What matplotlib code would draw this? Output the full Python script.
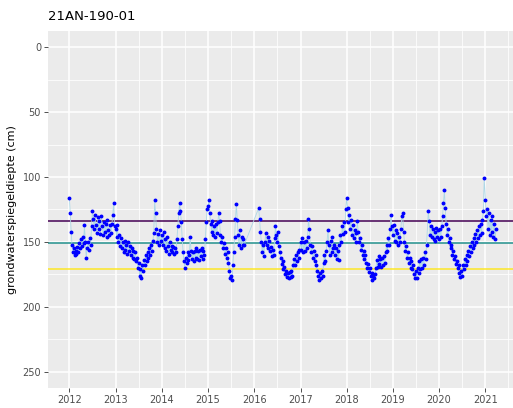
import numpy as np
import matplotlib.pyplot as plt
import matplotlib.dates as mdates

# weekly readings (cm below surface), one list per year, week 0 = 1 January
# None = no measurement
depth = {
    2012: [116, 128, 142, 152, 158, 155, 160, 157, 159, 154, 158, 151, 155, 148, 153, 146,
           151, 137, 150, 162, 155, 150, 156, 147, 152, 138, 126, 132, 140, 129, 137, 143,
           131, 140, 134, 144, 130, 138, 145, 135, 142, 136, 146, 133, 141, 145, 137, 143,
           136, 129, 120, 138],
    2013: [140, 146, 137, 150, 145, 153, 147, 155, 150, 158, 149, 156, 152, 159, 150, 157,
           153, 160, 155, 162, 157, 163, 158, 165, 162, 170, 166, 176, 171, 178, 168, 172,
           164, 168, 160, 165, 158, 162, 155, 160, 152, 157, 149, 143, 118, 128, 140, 150,
           144, 152, 141, 149],
    2014: [145, 152, 142, 155, 148, 157, 146, 153, 159, 150, 156, 153, 158, 154, 159, 155,
           158, 148, 138, 128, 120, 126, 135, 148, 158, 165, 170, 162, 166, 158, 164, 160,
           146, 157, 163, 158, 165, 157, 162, 155, 163, 157, 164, 156, 161, 155, 163, 157,
           160, 148, 135, 125],
    2015: [122, 118, 128, 136, 142, 134, 145, 138, 146, 136, 143, 135, 128, 134, 145, 150,
           146, 155, 151, 159, 155, 162, 158, 166, 172, 178, 176, 179, 168, 158, 146, 132,
           121, 133, 145, 152, 141, 155, 146, 152, 148, 152, None, None, None, None, None, None,
           None, None, None, None],
    2016: [None, None, None, None, None, 124, 132, 142, 150, 158, 152, 161, 150, 143, 152, 146,
           155, 149, 157, 154, 161, 156, 160, 147, 138, 145, 150, 142, 153, 158, 162, 167,
           165, 171, 169, 175, 172, 177, 174, 178, 173, 177, 172, 176, 168, 163, 168, 160,
           165, 158, 162, 156],
    2017: [150, 156, 147, 158, 150, 157, 149, 155, 146, 132, 140, 152, 158, 153, 162, 157,
           165, 160, 168, 172, 176, 179, 174, 178, 172, 176, 166, 160, 165, 157, 150, 141,
           152, 160, 149, 158, 146, 155, 152, 160, 155, 163, 157, 164, 152, 145, 150, 138,
           144, 135, 142, 125],
    2018: [116, 124, 135, 129, 140, 133, 145, 137, 147, 141, 150, 143, 134, 142, 150, 147,
           156, 152, 160, 157, 163, 160, 166, 170, 167, 173, 170, 176, 174, 179, 176, 178,
           175, 170, 164, 169, 161, 167, 163, 169, 162, 168, 161, 166, 158, 152, 157, 147,
           152, 140, 129, 138],
    2019: [145, 137, 149, 141, 150, 143, 152, 146, 150, 140, 130, 128, 142, 150, 157, 153,
           162, 158, 166, 162, 170, 165, 171, 168, 175, 178, 172, 178, 170, 174, 165, 171,
           163, 170, 162, 168, 158, 163, 152, None, 126, 134, 145, 138, 146, 140, 148, 142,
           149, 139, 146, 141],
    2020: [148, 140, 146, 138, 130, 120, 110, 124, 136, 145, 140, 150, 147, 155, 152, 160,
           157, 163, 161, 167, 165, 170, 168, 174, 177, 172, 176, 168, 171, 163, 168, 160,
           165, 157, 161, 153, 158, 150, 155, 147, 152, 144, 150, 141, 147, 138, 145, 136,
           143, 133, 126, 101],
    2021: [118, 130, 125, 140, 128, 145, 133, 142, 130, 146, 136, 148, 140],
}

# reference levels (cm)
levels = [134, 151, 171]
level_colors = ["#440154", "#21908C", "#FDE725"]

title = "21AN-190-01"
ylabel = "grondwaterspiegeldiepte (cm)"

dates = []
values = []
for year, vals in depth.items():
    start = np.datetime64(f"{year}-01-01")
    for w, v in enumerate(vals):
        if v is not None:
            dates.append(start + np.timedelta64(7 * w, "D"))
            values.append(v)
dates = np.array(dates, dtype="datetime64[D]")
values = np.array(values, dtype=float)

fig = plt.figure(figsize=(5.13, 4.08), dpi=100)
ax = fig.add_axes([48 / 513, 1 - 388 / 408, (517 - 48) / 513, (388 - 31) / 408])
ax.set_facecolor("#EBEBEB")
for s in ax.spines.values():
    s.set_visible(False)

# grid like ggplot
years = np.arange(2012, 2022)
major_x = [np.datetime64(f"{y}-01-01") for y in years]
minor_x = [np.datetime64(f"{y}-07-02") for y in [2013, 2014, 2015, 2016, 2018, 2019, 2020, 2021]]
for d in major_x:
    ax.axvline(d, color="white", lw=1.1, zorder=0)
for d in minor_x:
    ax.axvline(d, color="white", lw=0.55, zorder=0)
for yv in [0, 50, 100, 150, 200, 250]:
    ax.axhline(yv, color="white", lw=1.1, zorder=0)
for yv in [25, 75, 125, 175, 225]:
    ax.axhline(yv, color="white", lw=0.55, zorder=0)

for lv, c in zip(levels, level_colors):
    ax.axhline(lv, color=c, lw=1.1, zorder=1)

ax.plot(dates, values, color="#ADD8E6", lw=0.6, zorder=2)
ax.plot(dates, values, ls="none", marker="o", ms=1.8, mfc="blue", mec="blue", zorder=3)

ax.set_xlim(np.datetime64("2011-07-16"), np.datetime64("2021-09-08"))
ax.set_ylim(262.5, -12.5)
ax.set_xticks(major_x)
ax.xaxis.set_major_formatter(mdates.DateFormatter("%Y"))
ax.set_yticks([0, 50, 100, 150, 200, 250])
ax.tick_params(colors="#333333", labelcolor="#4D4D4D", labelsize=7, length=3, width=0.6, pad=2)

ax.set_ylabel(ylabel, fontsize=8, labelpad=4)
fig.text(48 / 513, 1 - 17 / 408, title, fontsize=9.5, ha="left", va="center")

fig.savefig("out.png", dpi=100)
